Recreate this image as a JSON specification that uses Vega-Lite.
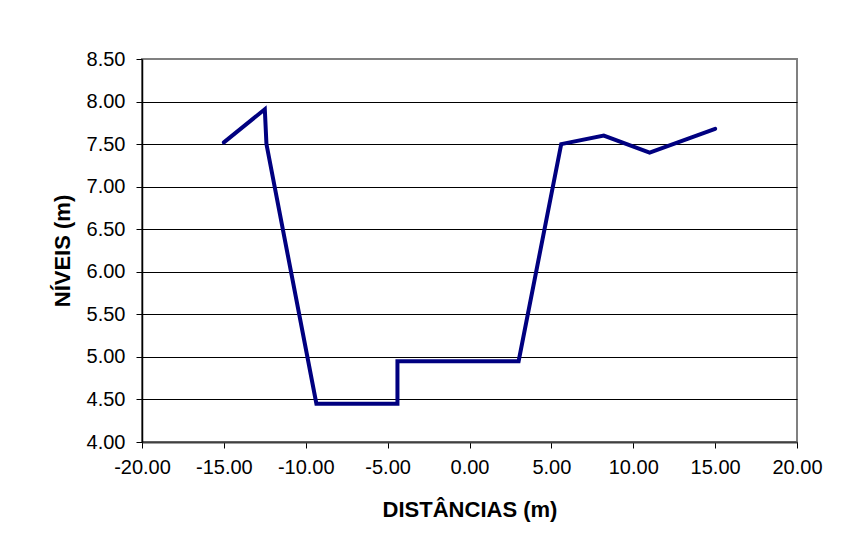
{
  "$schema": "https://vega.github.io/schema/vega-lite/v6.json",
  "autosize": {"type": "none"},
  "padding": {"left": 142, "top": 59, "right": 60, "bottom": 114},
  "width": 655,
  "height": 383,
  "background": "white",
  "config": {
    "view": {"stroke": "#808080", "strokeWidth": 2},
    "font": "Liberation Sans"
  },
  "data": {
    "values": [
      {"i": 1, "dist": -15.0, "nivel": 7.52},
      {"i": 2, "dist": -12.5, "nivel": 7.91},
      {"i": 3, "dist": -12.4, "nivel": 7.50},
      {"i": 4, "dist": -9.35, "nivel": 4.45},
      {"i": 5, "dist": -4.4, "nivel": 4.45},
      {"i": 6, "dist": -4.4, "nivel": 4.95},
      {"i": 7, "dist": 3.0, "nivel": 4.95},
      {"i": 8, "dist": 5.6, "nivel": 7.50},
      {"i": 9, "dist": 8.2, "nivel": 7.60},
      {"i": 10, "dist": 11.0, "nivel": 7.40},
      {"i": 11, "dist": 15.0, "nivel": 7.68}
    ]
  },
  "mark": {"type": "line", "color": "#000080", "strokeWidth": 4, "strokeJoin": "miter", "strokeCap": "round"},
  "encoding": {
    "order": {"field": "i", "type": "quantitative"},
    "x": {
      "field": "dist",
      "type": "quantitative",
      "scale": {"domain": [-20, 20], "nice": false, "zero": false},
      "axis": {
        "title": "DISTÂNCIAS (m)",
        "values": [-20, -15, -10, -5, 0, 5, 10, 15, 20],
        "labelExpr": "replace(format(datum.value, '.2f'), '\u2212', '-')",
        "grid": false,
        "domainColor": "#404040",
        "domainWidth": 2,
        "tickColor": "black",
        "tickSize": 6,
        "tickWidth": 1,
        "labelFont": "Liberation Sans",
        "labelFontSize": 20,
        "labelColor": "black",
        "labelPadding": 9,
        "labelFlush": false,
        "titleFont": "Liberation Sans",
        "titleFontSize": 22,
        "titleFontWeight": "bold",
        "titleColor": "black",
        "titlePadding": 22
      }
    },
    "y": {
      "field": "nivel",
      "type": "quantitative",
      "scale": {"domain": [4, 8.5], "nice": false, "zero": false},
      "axis": {
        "title": "NÍVEIS (m)",
        "values": [4, 4.5, 5, 5.5, 6, 6.5, 7, 7.5, 8, 8.5],
        "labelExpr": "replace(format(datum.value, '.2f'), '\u2212', '-')",
        "grid": true,
        "gridColor": {"condition": {"test": "datum.value >= 8.5", "value": "#808080"}, "value": "black"},
        "gridWidth": 1,
        "domainColor": "black",
        "domainWidth": 1.5,
        "tickColor": "black",
        "tickSize": 6,
        "tickWidth": 1,
        "labelFont": "Liberation Sans",
        "labelFontSize": 20,
        "labelColor": "black",
        "labelPadding": 11,
        "labelFlush": false,
        "titleFont": "Liberation Sans",
        "titleFontSize": 22,
        "titleFontWeight": "bold",
        "titleColor": "black",
        "titlePadding": 12
      }
    }
  }
}
